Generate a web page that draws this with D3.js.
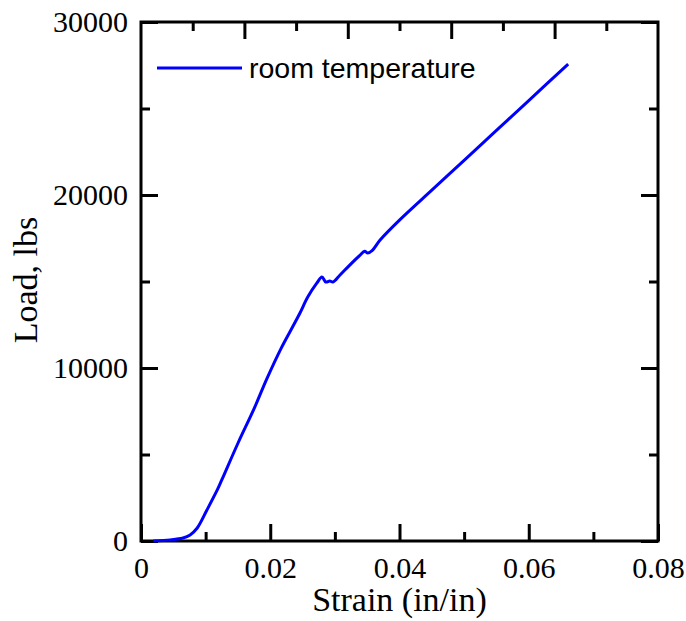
<!DOCTYPE html>
<html>
<head>
    <meta charset="utf-8">
    <script src="https://d3js.org/d3.v7.min.js"></script>
    <style>
        body { margin: 0; background: #fff; }
    </style>
</head>
<body>
<script>
// strain (in/in) vs load (lbs)
var strain = [0.0019, 0.0045, 0.0065, 0.0076, 0.0087, 0.0102, 0.0118, 0.0125, 0.0150, 0.0175,
              0.0195, 0.0217, 0.0232, 0.0246, 0.0258, 0.0272, 0.0280, 0.0286, 0.0292, 0.0297,
              0.0308, 0.0323, 0.0339, 0.0346, 0.0351, 0.0358, 0.0370, 0.0400, 0.0450, 0.0500,
              0.0550, 0.0600, 0.0661];
var load   = [0, 60, 170, 350, 750, 1790, 2950, 3530, 5650, 7650,
              9400, 11150, 12200, 13180, 14100, 14900, 15260, 14970, 15030, 14970,
              15375, 15950, 16530, 16750, 16650, 16800, 17400, 18550, 20280, 22000,
              23730, 25460, 27570];
var seriesName = "room temperature";

var xMajor = [0, 0.02, 0.04, 0.06, 0.08];
var xMinor = [0.01, 0.03, 0.05, 0.07];
var xTopTicks = [0.008, 0.016, 0.024, 0.032, 0.040, 0.048, 0.056, 0.064, 0.072];
var yMajor = [0, 10000, 20000, 30000];
var yMinor = [5000, 15000, 25000];

var width = 686, height = 621;
var margin = {left: 141, top: 22, right: 28, bottom: 80};
var w = width - margin.left - margin.right;
var h = height - margin.top - margin.bottom;

var svg = d3.select("body").append("svg")
    .attr("width", width)
    .attr("height", height);

var g = svg.append("g")
    .attr("transform", "translate(" + margin.left + "," + margin.top + ")");

var x = d3.scaleLinear().domain([0, 0.08]).range([0, w]);
var y = d3.scaleLinear().domain([0, 30000]).range([h, 0]);

var bigTick = 17, smallTick = 9;
var serif = "'Liberation Serif', 'Times New Roman', serif";

// bottom axis (ticks pointing inward)
g.append("g").attr("transform", "translate(0," + h + ")")
    .call(d3.axisBottom(x).tickValues(xMajor)
        .tickSize(-bigTick).tickPadding(16)
        .tickFormat(function(d){ return d === 0 ? "0" : d3.format(".2f")(d); }));
g.append("g").attr("transform", "translate(0," + h + ")")
    .call(d3.axisBottom(x).tickValues(xMinor).tickSize(-smallTick).tickFormat(""));

// top axis: finer spacing, alternating lengths
var topTicks = g.append("g")
    .call(d3.axisTop(x).tickValues(xTopTicks).tickSize(0).tickFormat(""));
topTicks.selectAll(".tick line")
    .attr("y2", function(d, i){ return i % 2 === 1 ? bigTick : smallTick; });

// left axis
g.append("g")
    .call(d3.axisLeft(y).tickValues(yMajor)
        .tickSize(-bigTick).tickPadding(13)
        .tickFormat(d3.format("d")));
g.append("g")
    .call(d3.axisLeft(y).tickValues(yMinor).tickSize(-smallTick).tickFormat(""));

// right axis
g.append("g").attr("transform", "translate(" + w + ",0)")
    .call(d3.axisRight(y).tickValues(yMajor).tickSize(-bigTick).tickFormat(""));
g.append("g").attr("transform", "translate(" + w + ",0)")
    .call(d3.axisRight(y).tickValues(yMinor).tickSize(-smallTick).tickFormat(""));

g.selectAll(".domain").remove();
g.selectAll(".tick line").attr("stroke", "#000").attr("stroke-width", 3);
g.selectAll(".tick text")
    .style("font-family", serif)
    .style("font-size", "30px")
    .attr("fill", "#000");

// frame
g.append("rect")
    .attr("x", 0).attr("y", 0)
    .attr("width", w).attr("height", h)
    .attr("fill", "none")
    .attr("stroke", "#000")
    .attr("stroke-width", 3);

// data line
var pts = strain.map(function(s, i){ return [s, load[i]]; });
var line = d3.line()
    .x(function(d){ return x(d[0]); })
    .y(function(d){ return y(d[1]); })
    .curve(d3.curveCatmullRom.alpha(0.5));

g.append("path")
    .datum(pts)
    .attr("d", line)
    .attr("fill", "none")
    .attr("stroke", "#0000ff")
    .attr("stroke-width", 3)
    .attr("stroke-linejoin", "round");

// legend
var leg = g.append("g").attr("transform", "translate(16,46)");
leg.append("line")
    .attr("x1", 0).attr("x2", 85)
    .attr("y1", 0).attr("y2", 0)
    .attr("stroke", "#0000ff").attr("stroke-width", 3);
leg.append("text")
    .attr("x", 92).attr("y", 10)
    .style("font-family", "'Liberation Sans', Arial, sans-serif")
    .style("font-size", "28.5px")
    .text(seriesName);

// axis titles
svg.append("text")
    .attr("x", margin.left + w / 2)
    .attr("y", 611)
    .attr("text-anchor", "middle")
    .style("font-family", serif)
    .style("font-size", "34px")
    .text("Strain (in/in)");

svg.append("text")
    .attr("transform", "translate(37,280) rotate(-90)")
    .attr("text-anchor", "middle")
    .style("font-family", serif)
    .style("font-size", "34px")
    .text("Load, lbs");
</script>
</body>
</html>
